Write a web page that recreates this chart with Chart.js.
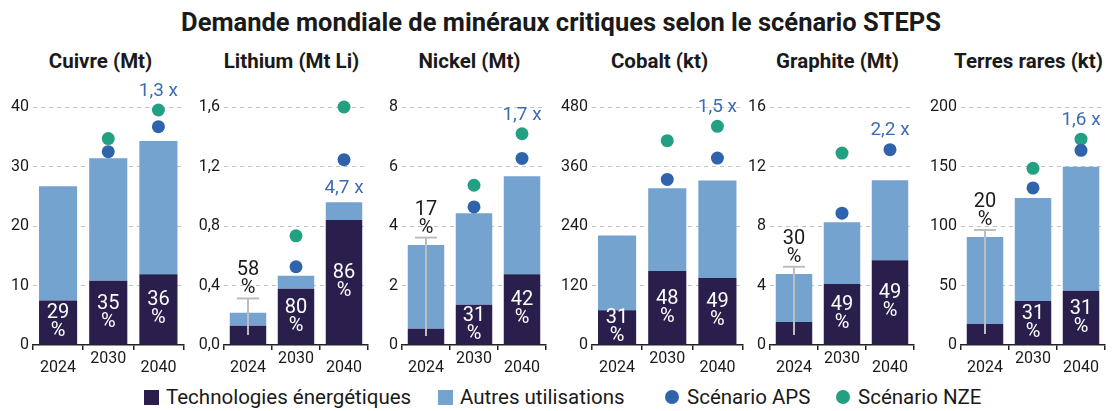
<!DOCTYPE html>
<html>
<head>
<meta charset="utf-8">
<script src="https://cdn.jsdelivr.net/npm/chart.js@4.4.1/dist/chart.umd.min.js"></script>
<style>
  html, body { margin: 0; padding: 0; background: #fff; overflow: hidden; }
  body { width: 1112px; height: 411px; position: relative; font-family: Roboto, "DejaVu Sans", sans-serif; color: #1a1a1a; }
  #title { position: absolute; top: 6px; left: 0; width: 1122px; text-align: center; font-weight: 700; font-size: 25.5px; line-height: 32px; }
  .ptitle { position: absolute; top: 48px; width: 200px; text-align: center; font-weight: 700; font-size: 20.5px; line-height: 26px; }
  canvas { position: absolute; top: 75px; }
  .leg { position: absolute; top: 384px; height: 26px; display: flex; align-items: center; font-size: 20.5px; white-space: nowrap; }
  .leg span.box { display: inline-block; width: 15px; height: 15px; margin-right: 7px; }
  .leg span.dot { display: inline-block; width: 14px; height: 14px; border-radius: 50%; margin-right: 8px; }
</style>
</head>
<body>
<div id="title">Demande mondiale de minéraux critiques selon le scénario STEPS</div>
<div class="leg" style="left:144px"><span class="box" style="background:#2a1f4c"></span>Technologies énergétiques</div>
<div class="leg" style="left:438px"><span class="box" style="background:#74a3d0"></span>Autres utilisations</div>
<div class="leg" style="left:665px"><span class="dot" style="background:#2f64ad"></span>Scénario APS</div>
<div class="leg" style="left:836px"><span class="dot" style="background:#23a082"></span>Scénario NZE</div>
<script>
const years = ['2024', '2030', '2040'];
const panelTitles = ['Cuivre (Mt)', 'Lithium (Mt Li)', 'Nickel (Mt)', 'Cobalt (kt)', 'Graphite (Mt)', 'Terres rares (kt)'];

// demand from energy technologies (dark part)
const techValues = [
  [7.5, 10.8, 11.9],
  [0.13, 0.378, 0.84],
  [0.55, 1.35, 2.38],
  [70, 149, 135],
  [1.55, 4.1, 5.7],
  [17.6, 37, 45.6]
];
// total demand (top of light part)
const totalValues = [
  [26.7, 31.4, 34.3],
  [0.217, 0.465, 0.96],
  [3.36, 4.43, 5.67],
  [221, 316, 332],
  [4.77, 8.26, 11.07],
  [90.7, 123.5, 149.8]
];
const apsValues = [
  [null, 32.5, 36.7],
  [null, 0.526, 1.246],
  [null, 4.64, 6.27],
  [null, 334, 377],
  [null, 8.86, 13.13],
  [null, 132, 163.6]
];
const nzeValues = [
  [null, 34.7, 39.5],
  [null, 0.734, 1.6],
  [null, 5.37, 7.1],
  [null, 412, 441],
  [null, 12.9, null],
  [null, 148.5, 173]
];
const techShares = [
  ['29', '35', '36'],
  ['58', '80', '86'],
  ['17', '31', '42'],
  ['31', '48', '49'],
  ['30', '49', '49'],
  ['20', '31', '31']
];
// 2024 range line (grey whisker)
const rangeLow = [null, 0.067, 0.3, null, 0.67, 9.2];
const rangeHigh = [null, 0.313, 3.61, null, 5.26, 96.6];
const growthLabels = ['1,3 x', '4,7 x', '1,7 x', '1,5 x', '2,2 x', '1,6 x'];
const axisMax = [40, 1.6, 8, 480, 16, 200];
const axisStep = [10, 0.4, 2, 120, 4, 50];
const axisDecimals = [0, 1, 0, 0, 0, 0];

const DARK = '#2a1f4c';
const LIGHT = '#74a3d0';
const APS = '#2f64ad';
const NZE = '#23a082';
const GREY = '#bdbdbd';
const plotLefts = [33, 224, 402, 592, 770, 961];

Chart.defaults.font.family = 'Roboto, "DejaVu Sans", sans-serif';
Chart.defaults.color = '#1a1a1a';

const barLabels = {
  id: 'barLabels',
  afterDatasetsDraw(chart, args, opts) {
    const p = opts.panel;
    const ctx = chart.ctx;
    const ys = chart.scales.y;
    const bars = chart.getDatasetMeta(0).data;
    ctx.save();
    ctx.textAlign = 'center';
    ctx.textBaseline = 'middle';
    ctx.font = '20px Roboto, sans-serif';
    bars.forEach((el, i) => {
      if (i === 0 && rangeHigh[p] !== null) {
        const capY = ys.getPixelForValue(rangeHigh[p]);
        ctx.fillStyle = '#1a1a1a';
        ctx.fillText(techShares[p][i], el.x, capY - 28);
        ctx.fillText('%', el.x, capY - 10);
      } else {
        const mid = (el.y + el.base) / 2;
        ctx.fillStyle = '#ffffff';
        ctx.fillText(techShares[p][i], el.x, mid - 9);
        ctx.fillText('%', el.x, mid + 9);
      }
    });
    // growth multiplier over 2040
    const x = bars[2].x;
    const barTop = ys.getPixelForValue(totalValues[p][2]);
    const dots = [apsValues[p][2], nzeValues[p][2]].filter(v => v !== null).map(v => ys.getPixelForValue(v));
    let labelY;
    if (dots.length === 0 || barTop - Math.max(...dots) > 35) {
      labelY = barTop - 14;
    } else {
      labelY = Math.min(...dots, barTop) - 19;
    }
    ctx.font = '19px Roboto, sans-serif';
    ctx.fillStyle = '#3d6cb3';
    ctx.fillText(growthLabels[p], x, labelY);
    ctx.restore();
  }
};

panelTitles.forEach((name, p) => {
  const t = document.createElement('div');
  t.className = 'ptitle';
  t.textContent = name;
  t.style.left = (plotLefts[p] + 75.5 - 8 - 100) + 'px';
  document.body.appendChild(t);

  const canvas = document.createElement('canvas');
  canvas.width = 197;
  canvas.height = 310;
  canvas.style.left = (plotLefts[p] - 40) + 'px';
  document.body.appendChild(canvas);

  const datasets = [
    {
      type: 'bar', label: 'Technologies énergétiques', data: techValues[p],
      backgroundColor: DARK, barPercentage: 0.76, categoryPercentage: 1, order: 3
    },
    {
      type: 'bar', label: 'Autres utilisations',
      data: techValues[p].map((v, i) => [v, totalValues[p][i]]),
      backgroundColor: LIGHT, barPercentage: 0.76, categoryPercentage: 1, order: 3
    },
    {
      type: 'line', label: 'Scénario APS', data: apsValues[p], showLine: false,
      pointRadius: 6.5, pointBackgroundColor: APS, pointBorderWidth: 0, clip: false, order: 1
    },
    {
      type: 'line', label: 'Scénario NZE', data: nzeValues[p], showLine: false,
      pointRadius: 6.5, pointBackgroundColor: NZE, pointBorderWidth: 0, clip: false, order: 1
    }
  ];
  if (rangeLow[p] !== null) {
    datasets.push({
      type: 'line', data: [{ x: years[0], y: rangeLow[p] }, { x: years[0], y: rangeHigh[p] }],
      borderColor: GREY, borderWidth: 2, pointRadius: 0, clip: false, order: 2
    });
    datasets.push({
      type: 'line', data: [{ x: years[0], y: rangeHigh[p] }], showLine: false,
      pointStyle: 'line', pointRadius: 11, pointBorderColor: GREY, pointBorderWidth: 2, clip: false, order: 2
    });
  }

  new Chart(canvas.getContext('2d'), {
    type: 'bar',
    data: { labels: years, datasets: datasets },
    options: {
      responsive: false,
      devicePixelRatio: 1,
      animation: false,
      layout: { padding: { top: 32, right: 6, left: 0, bottom: 0 } },
      plugins: {
        legend: { display: false },
        tooltip: { enabled: false },
        barLabels: { panel: p }
      },
      scales: {
        x: {
          stacked: true,
          offset: true,
          grid: { display: true, drawOnChartArea: false, drawTicks: true, tickLength: 5, color: '#222', lineWidth: 1.5, offset: true },
          border: { display: true, color: '#222', width: 1.5 },
          ticks: {
            autoSkip: false, maxRotation: 0, padding: 4,
            font: { size: 16, lineHeight: '9px' },
            callback: function (value, index) {
              const lab = this.getLabelForValue(value);
              return index === 1 ? lab : ['', lab];
            }
          },
          afterFit: s => { s.height = 40; }
        },
        y: {
          min: 0,
          max: axisMax[p],
          ticks: {
            stepSize: axisStep[p], padding: 4, font: { size: 16 },
            callback: v => v.toFixed(axisDecimals[p]).replace('.', ',')
          },
          grid: { drawTicks: false, lineWidth: 1, color: c => (c.tick && c.tick.value === 0) ? 'rgba(0,0,0,0)' : '#c4c4c4' },
          border: { display: false, dash: [4, 4] },
          afterFit: s => { s.width = 40; }
        }
      }
    },
    plugins: [barLabels]
  });
});
</script>
</body>
</html>
